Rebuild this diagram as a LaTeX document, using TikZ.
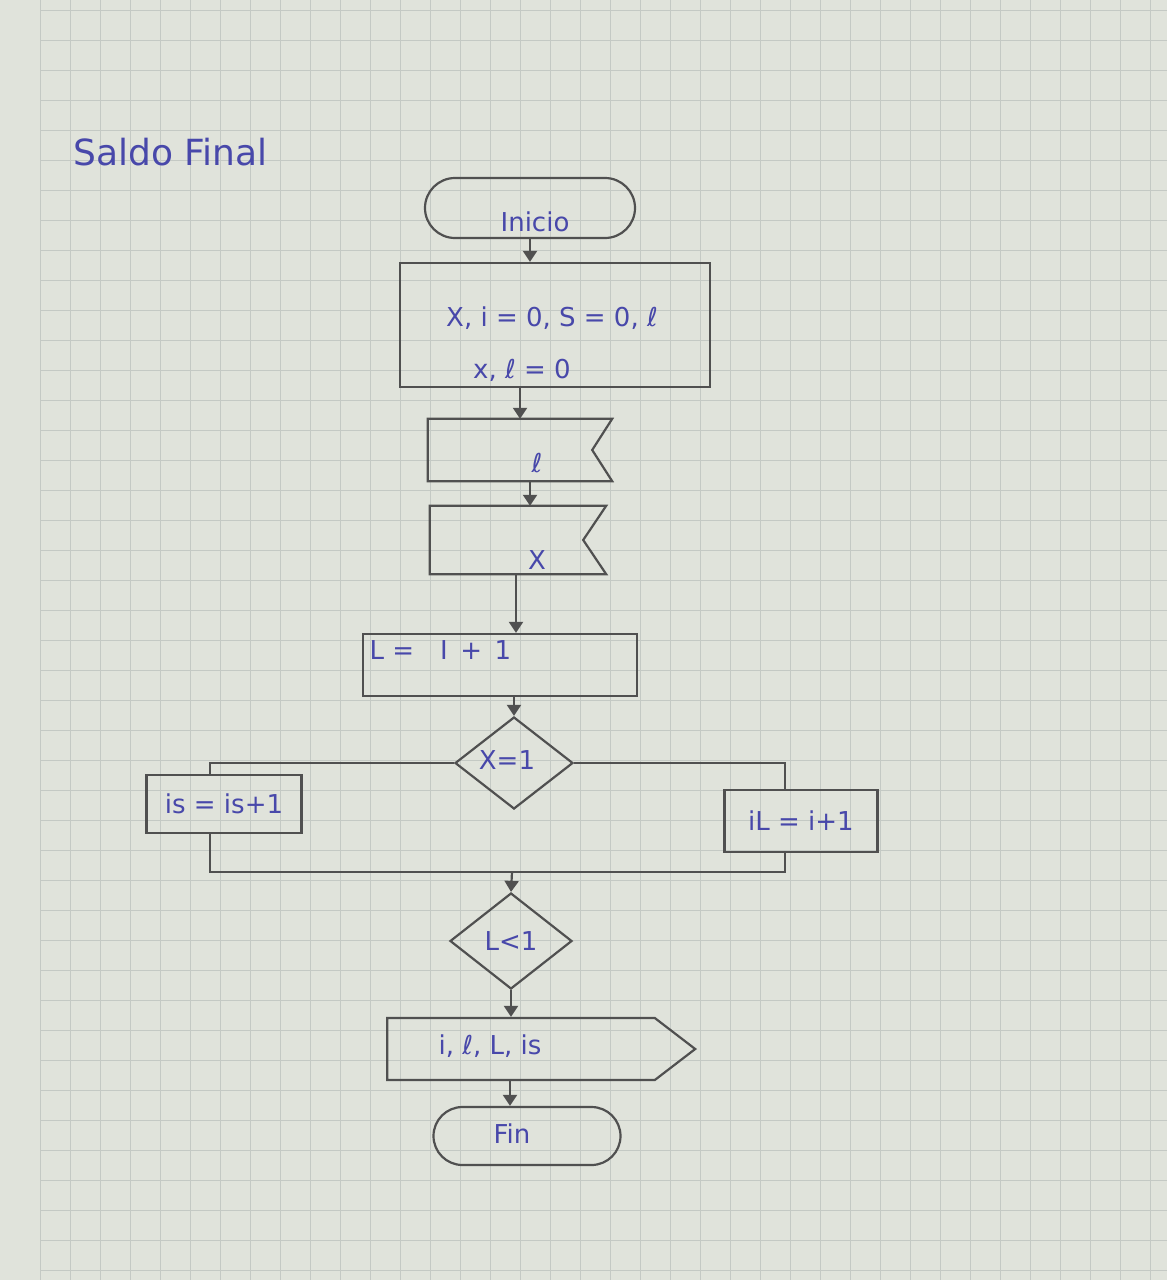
\documentclass[tikz,border=0pt]{standalone}
\usepackage{fontspec}
\setmainfont{DejaVu Sans}
\usetikzlibrary{arrows.meta,shapes.geometric,shapes.misc,shapes.symbols,calc}
\definecolor{paper}{RGB}{224,227,219}
\definecolor{gridc}{RGB}{196,201,196}
\definecolor{ink}{RGB}{72,72,170}
\definecolor{pencil}{RGB}{80,80,80}
\tikzset{
  txt/.style={text=ink, font=\fontsize{26}{30}\selectfont},
  shp/.style={draw=pencil, line width=2.2pt, txt, inner sep=0pt},
  term/.style={shp, rounded rectangle},
  procbox/.style={shp, rectangle},
  dec/.style={shp, diamond},
  outshape/.style={shp, signal, signal to=east, signal pointer angle=75},
  inbox/.style={draw=none, txt, inner sep=0pt, rectangle},
  arr/.style={draw=pencil, line width=2.2pt, -{Triangle[width=14pt,length=11pt]}},
  link/.style={draw=pencil, line width=2.2pt}
}
\begin{document}
\begin{tikzpicture}[x=1pt,y=-1pt]
\useasboundingbox (0,0) rectangle (1167,1280);
\fill[paper] (0,0) rectangle (1167,1280);
\foreach \gx in {40,70,...,1160} \draw[gridc, line width=0.9pt] (\gx,0) -- (\gx,1280);
\foreach \gy in {10,40,...,1270} \draw[gridc, line width=0.9pt] (40,\gy) -- (1167,\gy);

\node[text=ink, font=\fontsize{36}{40}\selectfont, anchor=west] (title) at (70,152) {Saldo Final};

\node[term, minimum width=210, minimum height=60] (ini) at (530,208) {};
\node[txt] (init) at (535,222) {Inicio};
\node[procbox, minimum width=310, minimum height=124] (p1) at (555,325) {};
\node[txt] (p1a) at (552,318) {X, i = 0, S = 0, ℓ};
\node[txt] (p1b) at (522,370) {x, ℓ = 0};
\node[inbox, minimum width=184, minimum height=62] (in1) at (520,450) {};
\draw[link] (in1.north west) -- (in1.north east) -- ($(in1.east)+(-20,0)$) -- (in1.south east) -- (in1.south west) -- cycle;
\node[txt] (in1t) at (537,463) {ℓ};
\node[inbox, minimum width=176, minimum height=68] (in2) at (518,540) {};
\draw[link] (in2.north west) -- (in2.north east) -- ($(in2.east)+(-23,0)$) -- (in2.south east) -- (in2.south west) -- cycle;
\node[txt] (in2t) at (537,560) {X};
\node[procbox, minimum width=274, minimum height=62] (p2) at (500,665) {};
\node[txt, anchor=west] (p2t) at (366,650) {L =\quad I \,+\, 1};
\node[dec, minimum width=118, minimum height=92] (d1) at (514,763) {};
\node[txt] (d1t) at (507,760) {X=1};
\node[procbox, minimum width=155, minimum height=58] (is) at (224,804) {is = is+1};
\node[procbox, minimum width=153, minimum height=62] (il) at (801,821) {iL = i+1};
\node[dec, minimum width=122, minimum height=96] (d2) at (511,941) {L<1};
\node[outshape, minimum width=308, minimum height=62] (out) at (521,1049) {};
\node[txt] (outt) at (490,1046) {i, ℓ, L, is};
\node[term, minimum width=187, minimum height=58] (fin) at (527,1136) {};
\node[txt] (fint) at (512,1134) {Fin};

\coordinate (join) at (512,872);
\draw[arr] (ini.south) -- (p1.north -| ini.south);
\draw[arr] (p1.south -| 520,0) -- (in1.north -| 520,0);
\draw[arr] (in1.south -| 530,0) -- (in2.north -| 530,0);
\draw[arr] (in2.south -| 516,0) -- (p2.north -| 516,0);
\draw[arr] (p2.south -| 514,0) -- (d1.north);
\draw[link] (d1.west) -| ([xshift=-14pt]is.north);
\draw[link] (d1.east) -| ([xshift=-16pt]il.north);
\draw[link] ([xshift=-14pt]is.south) |- (join) -| ([xshift=-16pt]il.south);
\draw[arr] (join) -- (d2.north);
\draw[arr] (d2.south) -- (out.north -| d2.south);
\draw[arr] (out.south -| 510,0) -- (fin.north -| 510,0);
\end{tikzpicture}
\end{document}
